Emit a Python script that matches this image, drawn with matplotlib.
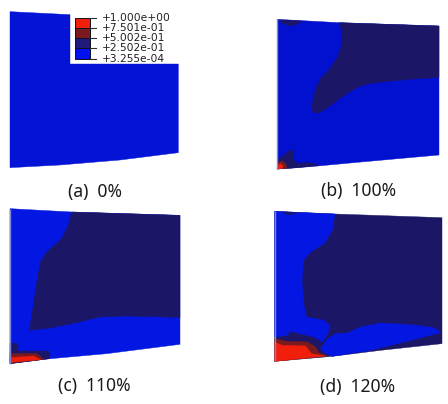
import matplotlib
matplotlib.use("Agg")
import matplotlib.pyplot as plt
from matplotlib.patches import Polygon, Rectangle

BLUE_A = "#0414d6"
BLUE_B = "#0210d0"
BLUE_C = "#0416e2"
NAVY = "#1b1666"
DARKRED = "#7a1a1e"
RED = "#f01e0a"

panel_labels = ["(a)  0%", "(b)  100%", "(c)  110%", "(d)  120%"]
legend_values = ["+1.000e+00", "+7.501e-01", "+5.002e-01", "+2.502e-01", "+3.255e-04"]
legend_colors = [RED, DARKRED, "#1f1a7a", "#0010f0"]

# outlines in panel units (each panel spans 672 x 606)
a_body = [(30,35),(210,44),(210,192),(535,192),(535,458),(360,480),(180,495),(30,503)]

b_body = [(160,58),(345,68),(645,78),(645,465),(400,487),(260,500),(160,507)]
b_navy = [(345,68),(352,90),(355,115),(350,145),(340,172),(315,210),(290,235),(278,260),(270,285),
          (264,315),(266,333),(275,340),(292,335),(315,320),(345,297),(372,278),(405,260),(435,251),
          (500,243),(570,237),(645,232),(645,78)]
b_top = [(165,60),(235,63),(218,73),(198,78),(178,71)]
b_corner_navy = [(160,482),(182,463),(204,448),(208,462),(208,478),(218,490),(255,488),(285,496),(210,504),(160,507)]
b_corner_dark = [(160,490),(172,483),(185,490),(188,504),(160,507)]
b_corner_red = [(160,497),(170,491),(177,498),(175,506),(160,507)]

c_body = [(30,20),(215,30),(540,40),(540,427),(320,455),(130,472),(30,485)]
c_navy = [(215,30),(205,70),(185,110),(140,150),(122,178),(112,230),(100,310),(88,385),(150,378),
          (230,362),(300,345),(380,342),(460,344),(540,347),(540,40)]
c_corner_navy = [(30,423),(53,425),(55,447),(148,447),(150,470),(30,485)]
c_corner_dark = [(30,455),(110,455),(132,472),(30,484)]
c_corner_red = [(30,467),(100,462),(122,473),(30,481)]

d_body = [(152,28),(333,36),(654,47),(654,425),(470,445),(325,463),(152,478)]
d_blue = [(152,28),(333,36),(325,85),(300,125),(260,150),(238,175),(234,240),(240,310),(247,345),
          (300,355),(318,370),(312,395),(295,420),(270,405),(200,388),(190,400),(152,405)]
d_top = [(175,30),(220,32),(200,38),(185,36)]
d_blue_low = [(290,440),(310,410),(335,395),(370,393),(410,375),(470,363),(560,368),(630,377),
              (650,392),(560,415),(440,445),(325,463),(300,452)]
d_dark = [(152,410),(190,418),(250,420),(275,435),(285,452),(310,462),(152,478)]
d_red = [(152,420),(175,430),(245,432),(262,455),(305,462),(152,478)]

panels = [
    ([0.0, 0.5, 0.5, 0.5], [(a_body, BLUE_A)], None),
    ([0.5, 0.5, 0.5, 0.5], [(b_body, BLUE_B), (b_navy, NAVY), (b_top, NAVY), (b_corner_navy, NAVY),
                            (b_corner_dark, DARKRED), (b_corner_red, RED)], ((160,58),(160,507))),
    ([0.0, 0.0, 0.5, 0.5], [(c_body, BLUE_C), (c_navy, NAVY), (c_corner_navy, NAVY),
                            (c_corner_dark, DARKRED), (c_corner_red, RED)], ((30,20),(30,485))),
    ([0.5, 0.0, 0.5, 0.5], [(d_body, NAVY), (d_blue, BLUE_C), (d_top, NAVY), (d_blue_low, BLUE_C),
                            (d_dark, DARKRED), (d_red, RED)], ((152,28),(152,478))),
]
label_pos = [(285, 575), (403, 573), (284, 553), (401, 555)]

fig = plt.figure(figsize=(4.48, 4.04), dpi=100)
axes = []
for rect, shapes, edge in panels:
    ax = fig.add_axes(rect)
    ax.set_xlim(0, 672)
    ax.set_ylim(606, 0)
    ax.axis("off")
    for pts, col in shapes:
        ax.add_patch(Polygon(pts, closed=True, facecolor=col, edgecolor=col, linewidth=0.3))
    if edge is not None:
        ax.plot([edge[0][0], edge[1][0]], [edge[0][1], edge[1][1]], color="#7f86d2", lw=1.0,
                solid_capstyle="butt")
    axes.append(ax)

for ax, text, (x, y) in zip(axes, panel_labels, label_pos):
    ax.text(x, y, text, ha="center", va="center", fontsize=12.6, family="Noto Sans", color="#1a1a1a",
            clip_on=False)

# contour legend in panel (a)
ax = axes[0]
band_tops = [53, 83, 114, 145]
band_h = 31
for top, col in zip(band_tops, legend_colors):
    ax.add_patch(Rectangle((224, top), 47, band_h, facecolor=col, edgecolor="#101020", linewidth=0.7))
tick_ys = [53, 83, 114, 145, 176]
for y, val in zip(tick_ys, legend_values):
    ax.plot([271, 288], [y, y], color="#303030", lw=0.8)
    ax.text(306, y, val, ha="left", va="center", fontsize=7.7, color="#202020")

fig.savefig("out.png", dpi=100)
